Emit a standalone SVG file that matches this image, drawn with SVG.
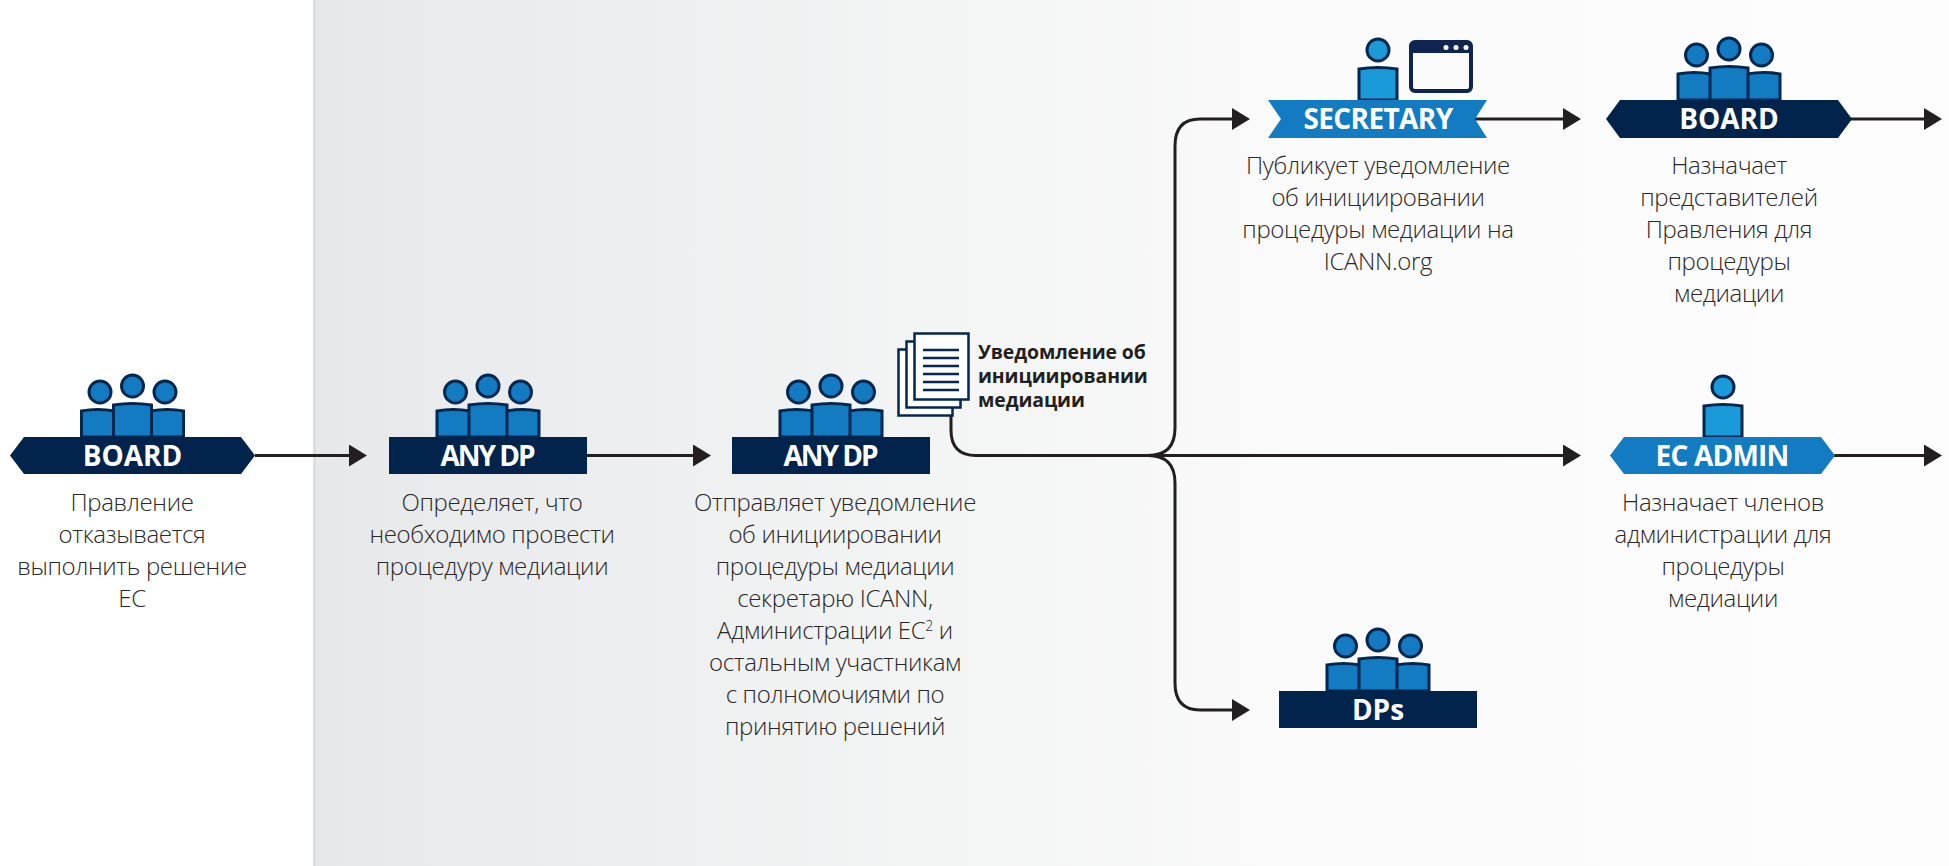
<svg xmlns="http://www.w3.org/2000/svg" width="1949" height="866" viewBox="0 0 1949 866">
<style>
.t{font-family:"Open Sans","Noto Sans",sans-serif;font-weight:300;font-size:24px;fill:#2a2728;text-anchor:middle;letter-spacing:-.35px}
.b{font-family:"Open Sans","Noto Sans",sans-serif;font-weight:700;font-size:28px;fill:#fff;text-anchor:middle}
.n{font-family:"Open Sans","Noto Sans",sans-serif;font-weight:700;font-size:19.400px;fill:#231f20;letter-spacing:-.1px}
.c{fill:none;stroke:#231f20;stroke-width:3}
.p{stroke:#03274f;stroke-width:3;fill:#127bc2}
.s{stroke:#03274f;stroke-width:3;fill:#1a9ad9}
.navy{fill:#02244c}
.blue{fill:#127bc2}
.pg{fill:#fff;stroke:#03274f;stroke-width:2.5}
.ln{stroke:#03274f;stroke-width:2.5}
</style>
<defs>
<linearGradient id="g" x1="0" x2="1" y1="0" y2="0"><stop offset="0" stop-color="#e7e8ea"/><stop offset=".38" stop-color="#f3f4f4"/><stop offset=".6" stop-color="#fafafa"/><stop offset="1" stop-color="#fdfdfd"/></linearGradient>
<marker id="a" markerUnits="userSpaceOnUse" markerWidth="19" markerHeight="22" refX="0" refY="11" orient="auto"><path d="M0 0L18 11L0 22Z" fill="#231f20"/></marker>
<g id="three">
<circle class="p" cx="-32.500" cy="-45" r="11"/><circle class="p" cx="32.500" cy="-45" r="11"/><circle class="p" cx="0" cy="-51" r="11"/>
<path class="p" d="M-51 0V-26Q-35 -29 -18 -26V0Z"/><path class="p" d="M51 0V-26Q35 -29 18 -26V0Z"/><path class="p" d="M-19 0V-32Q0 -35 19 -32V0Z"/>
</g>
<g id="one"><circle class="s" cx="0" cy="-50" r="11"/><path class="s" d="M-19 0V-31Q0 -34 19 -31V0Z"/></g>
</defs>
<rect x="313" y="0" width="1636" height="866" fill="url(#g)"/>
<rect x="313" y="0" width="3" height="866" fill="#dcddde"/>
<g id="connectors">
<path class="c" d="M255 455.500H349" marker-end="url(#a)"/>
<path class="c" d="M587 455.500H693" marker-end="url(#a)"/>
<path class="c" d="M951 415V430Q951 455.500 976 455.500H1563" marker-end="url(#a)"/>
<path class="c" d="M1148 455.500Q1175 455.500 1175 428V146Q1175 119 1200 119H1232" marker-end="url(#a)"/>
<path class="c" d="M1148 455.500Q1175 455.500 1175 483V683Q1175 710 1200 710H1232" marker-end="url(#a)"/>
<path class="c" d="M1475 119H1563" marker-end="url(#a)"/>
<path class="c" d="M1850 119H1924" marker-end="url(#a)"/>
<path class="c" d="M1833 455.500H1924" marker-end="url(#a)"/>
</g>
<g id="board1"><use href="#three" x="132.500" y="437"/><path class="navy" d="M10 455.500L24 437H241L255 455.500L241 474H24Z"/><text class="b" x="132.500" y="466">BOARD</text>
<text class="t" x="132" y="511">Правление</text><text class="t" x="132" y="543">отказывается</text><text class="t" x="132" y="575">выполнить решение</text><text class="t" x="132" y="607">EC</text></g>
<g id="anydp1"><use href="#three" x="488" y="437"/><rect class="navy" x="389" y="437" width="198" height="37"/><text class="b" style="letter-spacing:-2px" x="487" y="466">ANY DP</text>
<text class="t" x="492" y="511">Определяет, что</text><text class="t" x="492" y="543">необходимо провести</text><text class="t" x="492" y="575">процедуру медиации</text></g>
<g id="anydp2"><use href="#three" x="831" y="437"/><rect class="navy" x="732" y="437" width="198" height="37"/><text class="b" style="letter-spacing:-2px" x="830" y="466">ANY DP</text>
<text class="t" x="835" y="511">Отправляет уведомление</text><text class="t" x="835" y="543">об инициировании</text><text class="t" x="835" y="575">процедуры медиации</text><text class="t" x="835" y="607">секретарю ICANN,</text><text class="t" x="835" y="639">Администрации EC<tspan font-size="14" dy="-8">2</tspan><tspan dy="8"> и</tspan></text><text class="t" x="835" y="671">остальным участникам</text><text class="t" x="835" y="703">с полномочиями по</text><text class="t" x="835" y="735">принятию решений</text></g>
<g id="notice">
<rect class="pg" x="898.500" y="349.500" width="54" height="66"/><rect class="pg" x="906.500" y="341.500" width="54" height="66"/><rect class="pg" x="914.500" y="333.500" width="54" height="66"/>
<path class="ln" d="M923 350H959M923 358H959M923 366H959M923 374H959M923 382H959M923 390H959"/>
<text class="n" x="978" y="359">Уведомление об</text><text class="n" x="978" y="383">инициировании</text><text class="n" x="978" y="407">медиации</text></g>
<g id="secretary"><use href="#one" x="1378" y="100"/>
<rect x="1411" y="42" width="60" height="49" rx="4" fill="#fafafa" stroke="#0f2550" stroke-width="4"/><path d="M1411 46a4 4 0 0 1 4-4h52a4 4 0 0 1 4 4v7h-60z" fill="#0f2550"/><circle cx="1446" cy="47.500" r="2.500" fill="#fff"/><circle cx="1456" cy="47.500" r="2.500" fill="#fff"/><circle cx="1466" cy="47.500" r="2.500" fill="#fff"/>
<path class="blue" d="M1268 100H1487L1475 119L1487 138H1268L1281 119Z"/><text class="b" style="letter-spacing:-.6px" x="1378" y="129">SECRETARY</text>
<text class="t" x="1378" y="174">Публикует уведомление</text><text class="t" x="1378" y="206">об инициировании</text><text class="t" x="1378" y="238">процедуры медиации на</text><text class="t" x="1378" y="270">ICANN.org</text></g>
<g id="board2"><use href="#three" x="1729" y="100"/><path class="navy" d="M1606 119L1620 100H1838L1852 119L1838 138H1620Z"/><text class="b" x="1729" y="129">BOARD</text>
<text class="t" x="1729" y="174">Назначает</text><text class="t" x="1729" y="206">представителей</text><text class="t" x="1729" y="238">Правления для</text><text class="t" x="1729" y="270">процедуры</text><text class="t" x="1729" y="302">медиации</text></g>
<g id="ecadmin"><use href="#one" x="1723" y="437"/><path class="blue" d="M1610 455.500L1624 437H1821L1835 455.500L1821 474H1624Z"/><text class="b" style="letter-spacing:-.8px" x="1722" y="466">EC ADMIN</text>
<text class="t" x="1723" y="511">Назначает членов</text><text class="t" x="1723" y="543">администрации для</text><text class="t" x="1723" y="575">процедуры</text><text class="t" x="1723" y="607">медиации</text></g>
<g id="dps"><use href="#three" x="1378" y="691"/><rect class="navy" x="1279" y="691" width="198" height="37"/><text class="b" x="1378" y="720">DPs</text></g>
</svg>
